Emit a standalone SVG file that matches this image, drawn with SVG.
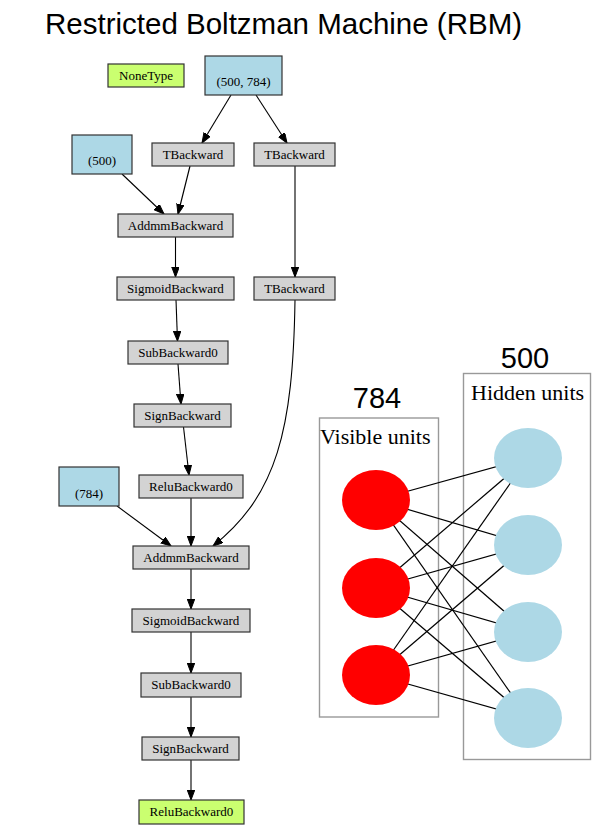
<svg xmlns="http://www.w3.org/2000/svg" width="598" height="840" viewBox="0 0 598 840">
<style>
.n rect{stroke:#333;stroke-width:1.2}
.g rect{fill:#d3d3d3}
.b rect{fill:#add8e6}
.y rect{fill:#caff70}
.n text{font-family:"Liberation Serif","Times New Roman",serif;font-size:13px;text-anchor:middle;fill:#000}
.e path{fill:none;stroke:#000;stroke-width:1.1;marker-end:url(#arr)}
.lay{fill:#fff;stroke:#999;stroke-width:1.4}
.lab{font-family:"Liberation Serif",serif;font-size:22px;fill:#000}
.num{font-family:"Liberation Sans",Arial,sans-serif;font-size:29px;fill:#000;text-anchor:middle}
.w line{stroke:#000;stroke-width:1.2}
</style>
<defs>
<marker id="arr" markerUnits="userSpaceOnUse" markerWidth="11" markerHeight="8" refX="10" refY="3.75" orient="auto">
<path d="M0,0 L10,3.75 L0,7.5 z" fill="#000" stroke="#000" stroke-width="1"/>
</marker>
</defs>
<rect width="598" height="840" fill="#fff"/>
<text x="45" y="33.5" font-family="'Liberation Sans',Arial,sans-serif" font-size="29.5" fill="#000">Restricted Boltzman Machine (RBM)</text>

<g id="connectors" class="e">
<path d="M231,95 L202,143"/>
<path d="M256,95 L287,143"/>
<path d="M122,174 L164,214"/>
<path d="M190,166 L178,214"/>
<path d="M175.5,237 L175.5,277"/>
<path d="M295,166 L295,277"/>
<path d="M176,300 L177.5,341"/>
<path d="M178,364 L181,404"/>
<path d="M183.5,427 L189,475"/>
<path d="M191,498 L191,546"/>
<path d="M117,506 L171,546"/>
<path d="M295,300 C293,430 277,495 213,546"/>
<path d="M191,569 L191,609"/>
<path d="M191,632 L191,673"/>
<path d="M191,697 L191,737"/>
<path d="M191,760 L191,800"/>
</g>

<g id="n_none" class="n y"><rect x="108" y="64" width="76" height="23"/><text x="146" y="80">NoneType</text></g>
<g id="n_w" class="n b"><rect x="205" y="56" width="77" height="39"/><text x="243.5" y="86">(500, 784)</text></g>
<g id="n_bh" class="n b"><rect x="72" y="135" width="60" height="39"/><text x="102" y="165">(500)</text></g>
<g id="n_t1" class="n g"><rect x="152" y="143" width="82" height="23"/><text x="193" y="158.5">TBackward</text></g>
<g id="n_t2" class="n g"><rect x="254" y="143" width="81" height="23"/><text x="294.5" y="158.5">TBackward</text></g>
<g id="n_addmm1" class="n g"><rect x="118" y="214" width="115" height="23"/><text x="175.5" y="229.5">AddmmBackward</text></g>
<g id="n_sig1" class="n g"><rect x="117" y="277" width="117" height="23"/><text x="175.5" y="292.5">SigmoidBackward</text></g>
<g id="n_t3" class="n g"><rect x="254" y="277" width="81" height="23"/><text x="294.5" y="292.5">TBackward</text></g>
<g id="n_sub1" class="n g"><rect x="128" y="341" width="100" height="23"/><text x="178" y="356.5">SubBackward0</text></g>
<g id="n_sign1" class="n g"><rect x="134" y="404" width="97" height="23"/><text x="182.5" y="419.5">SignBackward</text></g>
<g id="n_relu1" class="n g"><rect x="139" y="475" width="104" height="23"/><text x="191" y="490.5">ReluBackward0</text></g>
<g id="n_bv" class="n b"><rect x="59" y="467" width="60" height="39"/><text x="89" y="498">(784)</text></g>
<g id="n_addmm2" class="n g"><rect x="133" y="546" width="116" height="23"/><text x="191" y="561.5">AddmmBackward</text></g>
<g id="n_sig2" class="n g"><rect x="132" y="609" width="118" height="23"/><text x="191" y="624.5">SigmoidBackward</text></g>
<g id="n_sub2" class="n g"><rect x="141" y="673" width="100" height="24"/><text x="191" y="689">SubBackward0</text></g>
<g id="n_sign2" class="n g"><rect x="142" y="737" width="97" height="23"/><text x="190.5" y="752.5">SignBackward</text></g>
<g id="n_relu2" class="n y"><rect x="139" y="800" width="105" height="24"/><text x="191.5" y="816">ReluBackward0</text></g>

<g id="rbm">
<rect class="lay" x="463.5" y="373.5" width="127" height="386"/>
<rect class="lay" x="319.5" y="418" width="119" height="299"/>
<text class="num" x="525" y="368">500</text>
<text class="num" x="377" y="408">784</text>
<text class="lab" x="471" y="400">Hidden units</text>
<text class="lab" x="320" y="444">Visible units</text>
<g class="w">
<line x1="376" y1="500" x2="528" y2="458"/>
<line x1="376" y1="500" x2="528" y2="545"/>
<line x1="376" y1="500" x2="528" y2="632"/>
<line x1="376" y1="500" x2="528" y2="718"/>
<line x1="376" y1="588" x2="528" y2="458"/>
<line x1="376" y1="588" x2="528" y2="545"/>
<line x1="376" y1="588" x2="528" y2="632"/>
<line x1="376" y1="588" x2="528" y2="718"/>
<line x1="376" y1="675" x2="528" y2="458"/>
<line x1="376" y1="675" x2="528" y2="545"/>
<line x1="376" y1="675" x2="528" y2="632"/>
<line x1="376" y1="675" x2="528" y2="718"/>
</g>
<g fill="#ff0000">
<ellipse cx="376" cy="500" rx="34" ry="30"/>
<ellipse cx="376" cy="588" rx="34" ry="30"/>
<ellipse cx="376" cy="675" rx="34" ry="30"/>
</g>
<g fill="#add8e6">
<ellipse cx="528" cy="458" rx="34" ry="30"/>
<ellipse cx="528" cy="545" rx="34" ry="30"/>
<ellipse cx="528" cy="632" rx="34" ry="30"/>
<ellipse cx="528" cy="718" rx="34" ry="30"/>
</g>
</g>
</svg>
